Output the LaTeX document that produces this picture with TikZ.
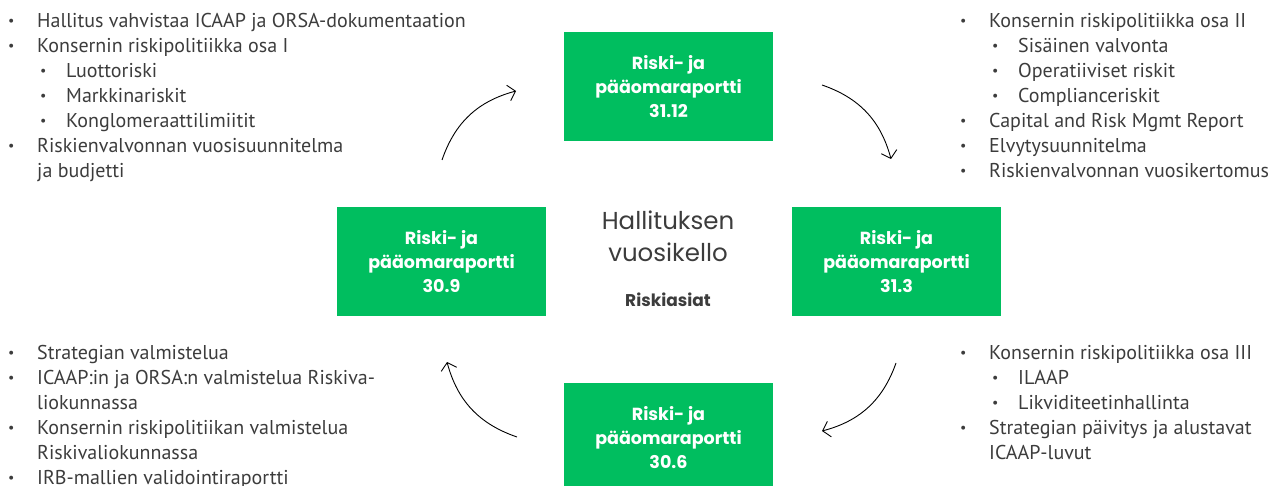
\documentclass[tikz,border=0pt]{standalone}
\usepackage{fontspec}
\usetikzlibrary{arrows.meta}
\setmainfont{PT Sans}
\newfontfamily\boxfont{Poppins}
\definecolor{riskgreen}{RGB}{0,190,95}
\definecolor{txtgray}{RGB}{60,60,60}
\newcommand\dotmark{\raisebox{0.2ex}{\scalebox{0.7}{\textbullet}}}
\newcommand\bitem[1]{\makebox[29pt][l]{\dotmark}#1}
\newcommand\sitem[1]{\hspace*{32pt}\makebox[26pt][l]{\dotmark}#1}
\newcommand\citem[1]{\hspace*{29pt}#1}
\tikzset{
  greenbox/.style={fill=riskgreen, text=white, minimum width=209pt, minimum height=109pt,
    inner sep=0pt, align=center, font=\boxfont\bfseries\fontsize{17.5}{24}\selectfont},
  listtext/.style={anchor=north west, inner sep=0pt, align=left, text=txtgray,
    font=\fontsize{20}{25}\selectfont},
  arr/.style={black, line width=0.9pt, -{Straight Barb[length=7pt,width=16pt,line width=0.9pt]}}
}
\begin{document}
\begin{tikzpicture}[x=1pt,y=-1pt]
\useasboundingbox (0,0) rectangle (1281,486);
\clip (0,0) rectangle (1281,486);
% green boxes
\node[greenbox] (b1) at (668.5,86.5) {Riski- ja\\pääomaraportti\\31.12};
\node[greenbox] (b2) at (896.5,261.5) {Riski- ja\\pääomaraportti\\31.3};
\node[greenbox] (b3) at (668.5,437.5) {Riski- ja\\pääomaraportti\\30.6};
\node[greenbox] (b4) at (441.5,261.5) {Riski- ja\\pääomaraportti\\30.9};
% centre title
\node[text=txtgray, align=center, font=\boxfont\fontsize{24.5}{32}\selectfont] (title) at (668,236) {Hallituksen\\vuosikello};
\node[text=txtgray, font=\boxfont\bfseries\fontsize{17}{18}\selectfont] (sub) at (668,300) {Riskiasiat};
% lists
\node[listtext] (tl) at (8,13) {\bitem{Hallitus vahvistaa ICAAP ja ORSA-dokumentaation}\\
\bitem{Konsernin riskipolitiikka osa I}\\
\sitem{Luottoriski}\\
\sitem{Markkinariskit}\\
\sitem{Konglomeraattilimiitit}\\
\bitem{Riskienvalvonnan vuosisuunnitelma}\\
\citem{ja budjetti}};
\node[listtext] (tr) at (960,13) {\bitem{Konsernin riskipolitiikka osa II}\\
\sitem{Sisäinen valvonta}\\
\sitem{Operatiiviset riskit}\\
\sitem{Complianceriskit}\\
\bitem{Capital and Risk Mgmt Report}\\
\bitem{Elvytysuunnitelma}\\
\bitem{Riskienvalvonnan vuosikertomus}};
\node[listtext] (br) at (960,345) {\bitem{Konsernin riskipolitiikka osa III}\\
\sitem{ILAAP}\\
\sitem{Likviditeetinhallinta}\\
\bitem{Strategian päivitys ja alustavat}\\
\citem{ICAAP-luvut}};
\node[listtext] (bl) at (8,345) {\bitem{Strategian valmistelua}\\
\bitem{ICAAP:in ja ORSA:n valmistelua Riskiva-}\\
\citem{liokunnassa}\\
\bitem{Konsernin riskipolitiikan valmistelua}\\
\citem{Riskivaliokunnassa}\\
\bitem{IRB-mallien validointiraportti}};
% arrows
\coordinate (a1s) at (442,160); \coordinate (a1e) at (516,91);
\coordinate (a2s) at (822,85);  \coordinate (a2e) at (891,159);
\coordinate (a3s) at (896,363); \coordinate (a3e) at (822,431);
\coordinate (a4s) at (517,437); \coordinate (a4e) at (447,362);
\draw[arr] (a1s) to[bend left=28] (a1e);
\draw[arr] (a2s) to[bend left=28] (a2e);
\draw[arr] (a3s) to[bend left=28] (a3e);
\draw[arr] (a4s) to[bend left=28] (a4e);
\end{tikzpicture}
\end{document}
